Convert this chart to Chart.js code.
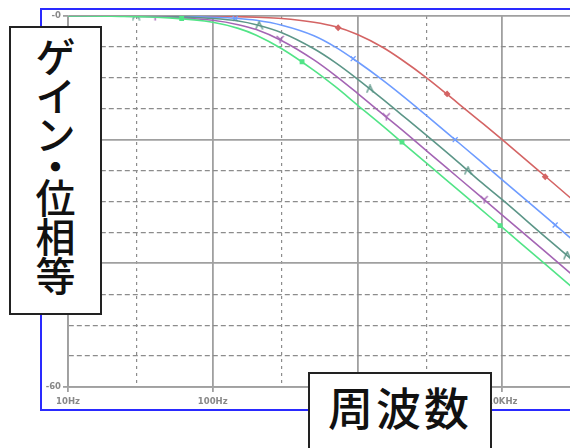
<!DOCTYPE html>
<html>
<head>
<meta charset="utf-8">
<script src="https://cdn.jsdelivr.net/npm/chart.js@4"></script>
<style>
  html, body { margin: 0; padding: 0; background: #fff; width: 570px; height: 448px; overflow: hidden; }
  #wrap { position: absolute; left: 0; top: 0; width: 700px; height: 448px; }
  #frame { position: absolute; left: 40px; top: 8px; width: 700px; height: 399px; border: 2px solid #2a2aff; }
  #bode { position: absolute; left: 0; top: 0; }
  .box { position: absolute; background: #fff; border: 2px solid #222; color: #111;
         font-family: "Noto Sans CJK JP", sans-serif; font-weight: 500; }
  #ylabel { left: 9px; top: 26px; width: 89px; height: 285px; text-align: center; font-size: 40px; }
  #ylabel span { display: block; line-height: 39px; }
  #ylabel span.dot { line-height: 24px; }
  #ylabel .first { margin-top: 8px; }
  #xlabel { left: 308px; top: 372px; width: 184px; height: 100px; text-align: center;
            font-size: 45px; letter-spacing: 3px; line-height: 58px; padding-top: 4px; box-sizing: border-box; }
</style>
</head>
<body>
<div id="wrap">
  <div id="frame"></div>
  <canvas id="bode" width="700" height="448"></canvas>
  <div class="box" id="ylabel">
    <span class="first">ゲ</span><span>イ</span><span>ン</span><span class="dot">・</span><span>位</span><span>相</span><span>等</span>
  </div>
  <div class="box" id="xlabel">周波数</div>
</div>
<script>
// frequency (Hz) and gain (dB)
const freqs = [10, 20, 50, 100, 150, 200, 300, 500, 700, 1000, 1500, 2000, 3000, 5000, 7000, 10000, 20000, 50000, 100000];
const redDb    = [0, 0, 0, -0.04, -0.1, -0.2, -0.4, -1.0, -1.7, -3.0, -5.1, -7.0, -10.0, -14.2, -17.0, -20.0, -26.0, -34.0, -40.0];
const blueDb   = [0, 0, -0.05, -0.2, -0.4, -0.7, -1.5, -3.2, -5.0, -7.4, -10.4, -12.7, -16.1, -20.5, -23.4, -26.5, -32.5, -40.5, -46.5];
const tealDb   = [0, 0, -0.1, -0.4, -0.8, -1.4, -2.7, -5.3, -7.5, -10.2, -13.5, -15.9, -19.3, -23.7, -26.7, -29.7, -35.8, -43.7, -49.7];
const purpleDb = [0, -0.03, -0.2, -0.7, -1.4, -2.2, -4.0, -7.1, -9.6, -12.5, -15.9, -18.3, -21.8, -26.2, -29.1, -32.2, -38.2, -46.2, -52.2];
const greenDb  = [0, -0.05, -0.3, -1.0, -2.0, -3.1, -5.3, -8.8, -11.4, -14.4, -17.8, -20.3, -23.8, -28.2, -31.1, -34.2, -40.2, -48.2, -54.2];

// probe markers along each trace
const redMarkF = [73, 735, 4160, 19800];
const redMarkDb = [0, -1.9, -12.6, -26.0];
const blueMarkF = [143, 933, 4730, 23200];
const blueMarkDb = [-0.4, -6.9, -20.0, -33.8];
const tealMarkF = [29.5, 209, 1220, 5800, 28100];
const tealMarkDb = [0, -1.5, -11.8, -25.0, -38.7];
const purpleMarkF = [40, 292, 1580, 7500];
const purpleMarkDb = [-0.1, -3.8, -16.3, -29.7];
const greenMarkF = [61, 414, 2030, 9660];
const greenMarkDb = [-0.4, -7.4, -20.4, -33.9];

// axes
const xGridFreqs = [10, 30, 100, 300, 1000, 3000, 10000, 30000, 100000];
const xTickLabels = { 10: '10Hz', 100: '100Hz', 1000: '1KHz', 10000: '10KHz', 100000: '100KHz' };
const yGridDb = [-60, -55, -50, -45, -40, -35, -30, -25, -20, -15, -10, -5, 0];
const yTickLabels = { '0': '-0', '-60': '-60' };

const RED = '#d46464', BLUE = '#6e9cff', TEAL = '#5c9688', PURPLE = '#a465b4', GREEN = '#52e487';
const GRID = '#a0a0a0', DASH = '#8c8c8c';

function pts(xs, ys) { return xs.map((x, i) => ({ x: x, y: ys[i] })); }

function glyph(color, kind) {
  const c = document.createElement('canvas');
  c.width = 9; c.height = 9;
  const g = c.getContext('2d');
  g.strokeStyle = color; g.lineWidth = 1.4;
  g.beginPath();
  if (kind === 'Y') {
    g.moveTo(1, 1); g.lineTo(4.5, 4.5); g.lineTo(8, 1);
    g.moveTo(4.5, 4.5); g.lineTo(4.5, 8.5);
  } else {
    g.moveTo(1, 8.5); g.lineTo(4.5, 1); g.lineTo(8, 8.5);
  }
  g.stroke();
  return c;
}

function trace(data, color, order) {
  return { data: data, borderColor: color, borderWidth: 1.6, pointRadius: 0,
           cubicInterpolationMode: 'monotone', fill: false, order: order };
}
function marks(data, color, style, r, order) {
  return { data: data, showLine: false, pointStyle: style, pointRadius: r,
           borderColor: color, backgroundColor: color, pointBorderWidth: 1.3, order: order };
}

const isDecade = v => xTickLabels[v] !== undefined;

new Chart(document.getElementById('bode'), {
  type: 'line',
  data: {
    datasets: [
      trace(pts(freqs, greenDb), GREEN, 1),
      marks(pts(greenMarkF, greenMarkDb), GREEN, 'rect', 2.5, 0),
      trace(pts(freqs, purpleDb), PURPLE, 3),
      marks(pts(purpleMarkF, purpleMarkDb), PURPLE, glyph(PURPLE, 'Y'), 4, 2),
      trace(pts(freqs, tealDb), TEAL, 5),
      marks(pts(tealMarkF, tealMarkDb), TEAL, glyph(TEAL, 'L'), 4, 4),
      trace(pts(freqs, blueDb), BLUE, 7),
      marks(pts(blueMarkF, blueMarkDb), BLUE, 'crossRot', 3.5, 6),
      trace(pts(freqs, redDb), RED, 9),
      marks(pts(redMarkF, redMarkDb), RED, 'rectRot', 2.5, 8)
    ]
  },
  options: {
    responsive: false,
    animation: false,
    layout: { padding: { left: 41, top: 16, right: 53, bottom: 39 } },
    plugins: { legend: { display: false }, tooltip: { enabled: false } },
    scales: {
      x: {
        type: 'logarithmic', min: 10, max: 100000,
        afterBuildTicks: s => { s.ticks = xGridFreqs.map(v => ({ value: v })); },
        afterFit: s => { s.height = 22; },
        ticks: {
          autoSkip: false, maxRotation: 0, padding: 5, color: '#888',
          font: { family: 'DejaVu Sans', size: 8.5, weight: 'bold' },
          callback: v => xTickLabels[v] || ''
        },
        grid: {
          color: c => (c.tick && isDecade(c.tick.value)) ? GRID : DASH,
          lineWidth: c => (c.tick && isDecade(c.tick.value)) ? 1.8 : 1.2,
          tickLength: 5,
          tickColor: c => (c.tick && isDecade(c.tick.value)) ? GRID : 'rgba(0,0,0,0)'
        },
        border: {
          color: GRID, width: 1.8,
          dash: c => (c.tick && !isDecade(c.tick.value)) ? [3, 4] : []
        }
      },
      y: {
        min: -60, max: 0,
        afterBuildTicks: s => { s.ticks = yGridDb.map(v => ({ value: v })); },
        afterFit: s => { s.width = 27; },
        ticks: {
          autoSkip: false, padding: 2, color: '#888',
          font: { family: 'DejaVu Sans', size: 8.5, weight: 'bold' },
          callback: v => yTickLabels[String(v)] || ''
        },
        grid: {
          color: c => (c.tick && c.tick.value % 20 === 0) ? GRID : DASH,
          lineWidth: c => (c.tick && c.tick.value % 20 === 0) ? 1.8 : 1.2,
          tickLength: 5,
          tickColor: c => (c.tick && yTickLabels[String(c.tick.value)]) ? GRID : 'rgba(0,0,0,0)'
        },
        border: {
          color: GRID, width: 1.8,
          dash: c => (c.tick && c.tick.value % 20 !== 0) ? [5, 3] : []
        }
      }
    }
  }
});
</script>
</body>
</html>
